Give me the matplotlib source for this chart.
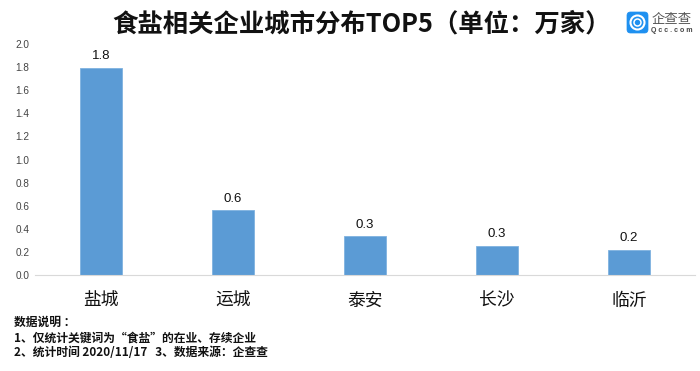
import matplotlib
matplotlib.use("Agg")
import matplotlib.pyplot as plt
from matplotlib.patches import FancyBboxPatch, Circle

plt.rcParams['font.family'] = ['Noto Sans CJK SC', 'DejaVu Sans']

cities = ["盐城", "运城", "泰安", "长沙", "临沂"]
values = [1.79, 0.56, 0.335, 0.255, 0.215]
value_labels = ["1.8", "0.6", "0.3", "0.3", "0.2"]
y_ticks = [0.0, 0.2, 0.4, 0.6, 0.8, 1.0, 1.2, 1.4, 1.6, 1.8, 2.0]

W, H = 700, 371
fig = plt.figure(figsize=(7, 3.71), dpi=100)
ax = fig.add_axes([35 / W, (H - 275) / H, 660 / W, 231 / H])

x = range(len(cities))
ax.bar(x, values, width=0.318, color="#5b9bd5", edgecolor="#7fb2e0", linewidth=0.6)
ax.set_xlim(-0.5, 4.5)
ax.set_ylim(0, 2.0)

for i, v in enumerate(values):
    ax.text(i, v + 0.05, value_labels[i], ha="center", va="bottom", fontsize=9.5,
            family=["Liberation Sans"], color="#111111")

ax.set_yticks(y_ticks)
ax.set_yticklabels(["%.1f" % t for t in y_ticks], fontsize=7.2, family=["Liberation Sans"], color="#444444")
ax.set_xticks(list(x))
ax.set_xticklabels(cities, fontsize=12.8, color="#111111", va="baseline")
ax.tick_params(axis="y", length=0, pad=4)
ax.tick_params(axis="x", length=0, pad=22)
for s in ["top", "right", "left"]:
    ax.spines[s].set_visible(False)
ax.spines["bottom"].set_color("#d9d9d9")

fig.text(362 / W, 1 - 24 / H, "食盐相关企业城市分布TOP5（单位：万家）", ha="center", va="center",
         fontsize=18.3, fontweight="bold", color="#111111")

notes = ["数据说明 ：", "1、仅统计关键词为“食盐”的在业、存续企业", "2、统计时间 2020/11/17   3、数据来源：企查查"]
for txt, py in zip(notes, [322, 338, 353]):
    fig.text(14 / W, 1 - py / H, txt, ha="left", va="center", fontsize=8.5, fontweight="bold", color="#111111")

# logo
logo = fig.add_axes([0, 0, 1, 1], facecolor="none")
logo.set_xlim(0, W)
logo.set_ylim(H, 0)
logo.axis("off")
logo.add_patch(FancyBboxPatch((627, 12), 21, 21, boxstyle="round,pad=0,rounding_size=3.5",
                              facecolor="#1e90f0", edgecolor="#1e90f0", linewidth=0.5))
logo.add_patch(Circle((637.5, 22.5), 7, facecolor="none", edgecolor="white", linewidth=1.5))
logo.add_patch(Circle((637.5, 22.5), 3.5, facecolor="none", edgecolor="white", linewidth=1.1))
logo.text(672, 18.5, "企查查", ha="center", va="center", fontsize=9.6, color="#555555")
logo.text(672, 30, "Q c c . c o m", ha="center", va="center", fontsize=5, color="#444444",
          family=["Liberation Sans"], fontweight="bold")

fig.savefig("out.png", dpi=100)
